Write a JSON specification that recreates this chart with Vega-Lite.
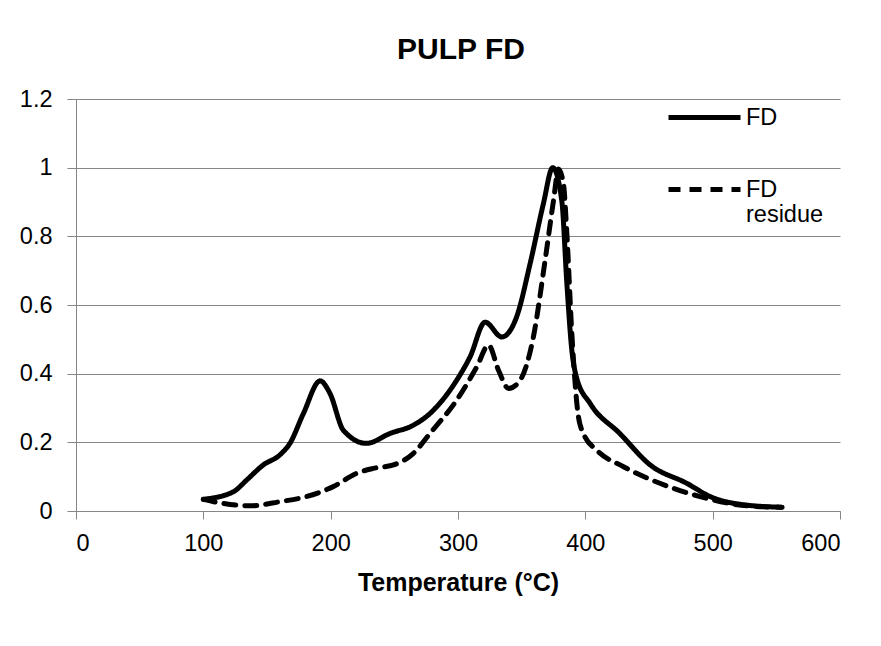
{
  "$schema": "https://vega.github.io/schema/vega-lite/v6.json",
  "width": 764,
  "height": 412,
  "autosize": {"type": "none"},
  "padding": {"left": 76, "top": 99, "right": 41, "bottom": 135},
  "background": "white",
  "title": {"text": "PULP FD", "font": "Liberation Sans", "fontSize": 30, "fontWeight": "bold", "color": "black", "offset": 14, "anchor": "middle", "dx": 3},
  "config": {
    "view": {"stroke": null},
    "axis": {"labelFont": "Liberation Sans", "labelFontSize": 23.5, "labelColor": "black", "titleFont": "Liberation Sans", "titleColor": "black", "domainColor": "#868686", "tickColor": "#868686", "gridColor": "#868686", "gridWidth": 1, "tickSize": 8}
  },
  "data": {"values": [
    {"T": 100, "v": 0.034, "s": "FD"},
    {"T": 123.6, "v": 0.056, "s": "FD"},
    {"T": 134, "v": 0.09, "s": "FD"},
    {"T": 147, "v": 0.134, "s": "FD"},
    {"T": 160, "v": 0.163, "s": "FD"},
    {"T": 168, "v": 0.197, "s": "FD"},
    {"T": 178.6, "v": 0.284, "s": "FD"},
    {"T": 191.7, "v": 0.379, "s": "FD"},
    {"T": 199.5, "v": 0.342, "s": "FD"},
    {"T": 210, "v": 0.235, "s": "FD"},
    {"T": 228, "v": 0.197, "s": "FD"},
    {"T": 246.7, "v": 0.226, "s": "FD"},
    {"T": 265, "v": 0.25, "s": "FD"},
    {"T": 278, "v": 0.284, "s": "FD"},
    {"T": 299, "v": 0.381, "s": "FD"},
    {"T": 309.5, "v": 0.449, "s": "FD"},
    {"T": 321.3, "v": 0.55, "s": "FD"},
    {"T": 334.4, "v": 0.507, "s": "FD"},
    {"T": 346, "v": 0.565, "s": "FD"},
    {"T": 356.6, "v": 0.72, "s": "FD"},
    {"T": 367, "v": 0.894, "s": "FD"},
    {"T": 374.4, "v": 1.0, "s": "FD"},
    {"T": 381.5, "v": 0.904, "s": "FD"},
    {"T": 385.5, "v": 0.662, "s": "FD"},
    {"T": 389.4, "v": 0.468, "s": "FD"},
    {"T": 393, "v": 0.39, "s": "FD"},
    {"T": 403.8, "v": 0.313, "s": "FD"},
    {"T": 427, "v": 0.226, "s": "FD"},
    {"T": 451, "v": 0.134, "s": "FD"},
    {"T": 480, "v": 0.08, "s": "FD"},
    {"T": 498, "v": 0.042, "s": "FD"},
    {"T": 527, "v": 0.017, "s": "FD"},
    {"T": 554.5, "v": 0.011, "s": "FD"},
    {"T": 100, "v": 0.034, "s": "FD residue"},
    {"T": 115.7, "v": 0.022, "s": "FD residue"},
    {"T": 136.7, "v": 0.015, "s": "FD residue"},
    {"T": 160, "v": 0.027, "s": "FD residue"},
    {"T": 181, "v": 0.042, "s": "FD residue"},
    {"T": 202, "v": 0.071, "s": "FD residue"},
    {"T": 220.5, "v": 0.11, "s": "FD residue"},
    {"T": 233.5, "v": 0.124, "s": "FD residue"},
    {"T": 250, "v": 0.135, "s": "FD residue"},
    {"T": 265, "v": 0.168, "s": "FD residue"},
    {"T": 278, "v": 0.226, "s": "FD residue"},
    {"T": 299, "v": 0.323, "s": "FD residue"},
    {"T": 314.8, "v": 0.42, "s": "FD residue"},
    {"T": 324, "v": 0.483, "s": "FD residue"},
    {"T": 331.8, "v": 0.41, "s": "FD residue"},
    {"T": 339.7, "v": 0.357, "s": "FD residue"},
    {"T": 348.8, "v": 0.381, "s": "FD residue"},
    {"T": 359.2, "v": 0.507, "s": "FD residue"},
    {"T": 368.4, "v": 0.73, "s": "FD residue"},
    {"T": 375, "v": 0.904, "s": "FD residue"},
    {"T": 378.9, "v": 0.996, "s": "FD residue"},
    {"T": 382.8, "v": 0.953, "s": "FD residue"},
    {"T": 385.5, "v": 0.807, "s": "FD residue"},
    {"T": 389.4, "v": 0.517, "s": "FD residue"},
    {"T": 394.6, "v": 0.274, "s": "FD residue"},
    {"T": 398.5, "v": 0.226, "s": "FD residue"},
    {"T": 409, "v": 0.177, "s": "FD residue"},
    {"T": 430, "v": 0.129, "s": "FD residue"},
    {"T": 459, "v": 0.08, "s": "FD residue"},
    {"T": 490, "v": 0.042, "s": "FD residue"},
    {"T": 527, "v": 0.015, "s": "FD residue"},
    {"T": 554, "v": 0.011, "s": "FD residue"}
  ]},
  "mark": {"type": "line", "color": "black", "strokeWidth": 5, "interpolate": "monotone", "strokeCap": "round", "strokeJoin": "round"},
  "encoding": {
    "x": {"field": "T", "type": "quantitative", "scale": {"domain": [0, 600], "nice": false}, "axis": {"values": [0, 100, 200, 300, 400, 500, 600], "title": "Temperature (°C)", "titleFontSize": 25, "titleFontWeight": "bold", "titlePadding": 16, "grid": false, "labelPadding": 12}},
    "y": {"field": "v", "type": "quantitative", "scale": {"domain": [0, 1.2], "nice": false}, "axis": {"values": [0, 0.2, 0.4, 0.6, 0.8, 1, 1.2], "format": ".1~f", "title": null, "grid": true, "labelPadding": 15, "tickSize": 9}},
    "strokeDash": {"field": "s", "type": "nominal", "scale": {"domain": ["FD", "FD residue"], "range": [[1, 0], [12, 9]]},
      "legend": {"title": null, "orient": "none", "legendX": 590, "legendY": -20, "symbolType": "stroke", "symbolSize": 5184, "symbolStrokeWidth": 5, "symbolStrokeColor": "black", "labelFont": "Liberation Sans", "labelFontSize": 23.5, "labelColor": "black", "rowPadding": 22, "labelOffset": 3, "labelExpr": "datum.label == 'FD residue' ? ['FD', 'residue'] : datum.label"}}
  }
}
